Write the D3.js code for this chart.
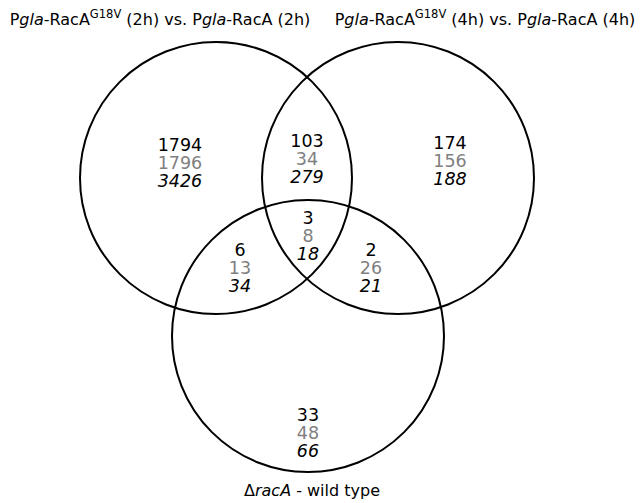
<!DOCTYPE html>
<html><head><meta charset="utf-8">
<script src="https://cdn.jsdelivr.net/npm/d3@7"></script>
<style>body{margin:0;background:#fff}svg{display:block}</style>
</head><body>
<svg id="c" width="640" height="503"></svg>
<script>
// Regions of the 3-set Venn diagram (A = 2h, B = 4h, C = ΔracA)
const regions = ["100", "110", "010", "111", "101", "011", "001"];
const seriesBlack = [1794, 103, 174, 3, 6, 2, 33];
const seriesGray  = [1796, 34, 156, 8, 13, 26, 48];
const seriesItalic = [3426, 279, 188, 18, 34, 21, 66];

const svg = d3.select("#c");
const font = "DejaVu Sans, sans-serif";

// layout in venn units -> pixels
const x = d3.scaleLinear().domain([0, 1]).range([0, 640]);
const y = d3.scaleLinear().domain([0, 1]).range([0, 503]);
const circles = [
  {cx: 216/640, cy: 178/503, r: 136},
  {cx: 398/640, cy: 178/503, r: 136},
  {cx: 308/640, cy: 336/503, r: 136}
];
svg.selectAll("circle.set").data(circles).join("circle")
  .attr("class", "set")
  .attr("cx", d => x(d.cx)).attr("cy", d => y(d.cy)).attr("r", d => d.r)
  .attr("fill", "none").attr("stroke", "#000").attr("stroke-width", 2);

// label anchor (top baseline) per region
const anchors = {
  "100": [180, 151], "110": [307, 147], "010": [450, 149],
  "111": [308, 224], "101": [240, 256], "011": [371, 256], "001": [308, 421]
};
const lh = 18;
const g = svg.append("g").attr("font-family", font).attr("font-size", 17.5).attr("text-anchor", "middle");
regions.forEach((r, i) => {
  const [ax, ay] = anchors[r];
  g.append("text").attr("x", ax).attr("y", ay).attr("fill", "#000").text(seriesBlack[i]);
  g.append("text").attr("x", ax).attr("y", ay + lh).attr("fill", "#808080").text(seriesGray[i]);
  g.append("text").attr("x", ax).attr("y", ay + 2 * lh).attr("fill", "#000").attr("font-style", "italic").text(seriesItalic[i]);
});

function title(xc, yb, hrs) {
  const t = svg.append("text").attr("x", xc).attr("y", yb).attr("text-anchor", "middle")
    .attr("font-family", font).attr("font-size", 16).attr("fill", "#000");
  t.append("tspan").text("P");
  t.append("tspan").attr("font-style", "italic").text("gla");
  t.append("tspan").text("-RacA");
  t.append("tspan").attr("font-size", 11.5).attr("dy", -7).text("G18V");
  t.append("tspan").attr("dy", 7).text(" (" + hrs + ") vs. P");
  t.append("tspan").attr("font-style", "italic").text("gla");
  t.append("tspan").text("-RacA (" + hrs + ")");
}
title(160, 25, "2h");
title(485, 25, "4h");
const b = svg.append("text").attr("x", 312).attr("y", 496).attr("text-anchor", "middle")
  .attr("font-family", font).attr("font-size", 16).attr("fill", "#000");
b.append("tspan").text("Δ");
b.append("tspan").attr("font-style", "italic").text("racA");
b.append("tspan").text(" - wild type");
</script>
</body></html>
